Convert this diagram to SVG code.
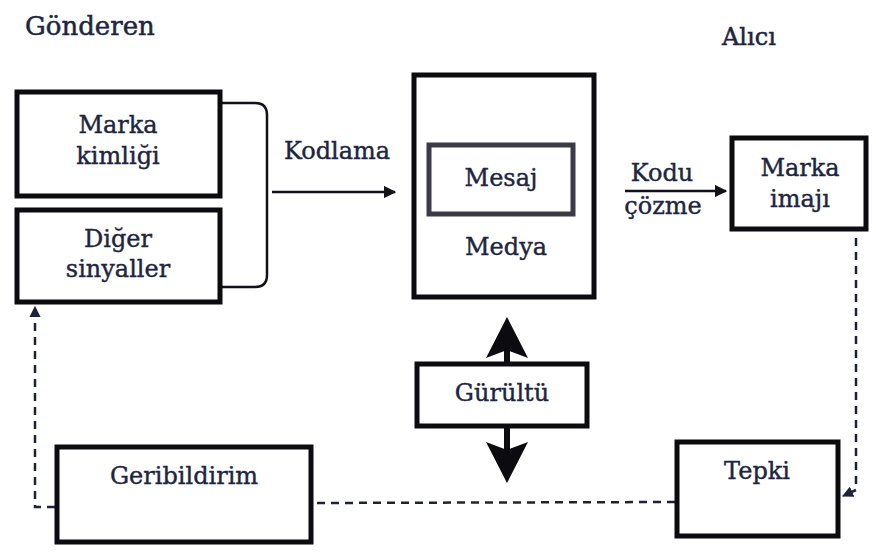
<svg xmlns="http://www.w3.org/2000/svg" width="876" height="552" viewBox="0 0 876 552">
  <style>
    .box { fill: #ffffff; stroke: #0b0b10; stroke-width: 5; }
    .inner { fill: #ffffff; stroke: #3a3b44; stroke-width: 5; }
    .lbl { font-family: "DejaVu Serif", "Liberation Serif", serif; font-size: 24px; fill: #1d2540; stroke: #1d2540; stroke-width: 0.4; text-anchor: middle; }
    .title { font-family: "DejaVu Serif", "Liberation Serif", serif; fill: #1d2540; stroke: #1d2540; stroke-width: 0.5; }
    .solid { fill: none; stroke: #111218; stroke-width: 2.5; }
    .dash { fill: none; stroke: #1d2238; stroke-width: 2.5; stroke-dasharray: 8 6; }
    .thick { fill: none; stroke: #0b0b10; stroke-width: 6; }
  </style>
  <defs>
    <marker id="head" viewBox="0 0 10 10" refX="9" refY="5" markerWidth="5" markerHeight="5" orient="auto">
      <path d="M0,0 L10,5 L0,10 z" fill="#111218"/>
    </marker>
    <marker id="headSmall" viewBox="0 0 10 10" refX="9" refY="5" markerWidth="4.5" markerHeight="4.5" orient="auto">
      <path d="M0,0 L10,5 L0,10 z" fill="#1d2238"/>
    </marker>
  </defs>
  <rect width="876" height="552" fill="#ffffff"/>

  <!-- Side titles -->
  <text class="title" x="25" y="35" font-size="26">Gönderen</text>
  <text class="title" x="722" y="45" font-size="24">Alıcı</text>

  <!-- Connectors -->
  <g id="connectors">
    <!-- bracket joining the two sender boxes -->
    <path class="solid" d="M222,103 L255,103 Q267,103 267,115 L267,275 Q267,287 255,287 L222,287" stroke-width="3"/>
    <!-- Kodlama -->
    <line class="solid" x1="272" y1="192" x2="395" y2="192" marker-end="url(#head)"/>
    <text class="lbl" x="337" y="159">Kodlama</text>
    <!-- Kodu çözme -->
    <line class="solid" x1="625" y1="191" x2="726" y2="191" marker-end="url(#head)"/>
    <text class="lbl" x="662" y="181">Kodu</text>
    <text class="lbl" x="663" y="214">çözme</text>
    <!-- noise arrows -->
    <line class="thick" x1="507" y1="362" x2="507" y2="345"/>
    <polygon points="507,317 528,358 507,350 486,358" fill="#0b0b10"/>
    <line class="thick" x1="507" y1="427" x2="507" y2="455"/>
    <polygon points="507,483 528,442 507,450 486,442" fill="#0b0b10"/>
    <!-- feedback loop -->
    <polyline class="dash" points="856,238 856,490 843,496" marker-end="url(#headSmall)"/>
    <line class="dash" x1="675" y1="502" x2="313" y2="503"/>
    <polyline class="dash" points="55,507 35,507 35,307" marker-end="url(#headSmall)"/>
  </g>

  <!-- Sender -->
  <g id="marka-kimligi">
    <rect class="box" x="17" y="92" width="203" height="104"/>
    <text class="lbl" x="118" y="133">Marka</text>
    <text class="lbl" x="118" y="164">kimliği</text>
  </g>
  <g id="diger-sinyaller">
    <rect class="box" x="17" y="210" width="203" height="92"/>
    <text class="lbl" x="118" y="247">Diğer</text>
    <text class="lbl" x="118" y="277">sinyaller</text>
  </g>

  <!-- Medium -->
  <g id="medya">
    <rect class="box" x="414" y="75" width="180" height="222"/>
    <text class="lbl" x="506" y="255">Medya</text>
  </g>
  <g id="mesaj">
    <rect class="inner" x="429" y="145" width="144" height="69"/>
    <text class="lbl" x="501" y="186">Mesaj</text>
  </g>
  <g id="gurultu">
    <rect class="box" x="417" y="364" width="170" height="62"/>
    <text class="lbl" x="502" y="401">Gürültü</text>
  </g>

  <!-- Receiver -->
  <g id="marka-imaji">
    <rect class="box" x="732" y="138" width="134" height="91"/>
    <text class="lbl" x="800" y="176">Marka</text>
    <text class="lbl" x="800" y="207">imajı</text>
  </g>
  <g id="tepki">
    <rect class="box" x="677" y="442" width="161" height="94"/>
    <text class="lbl" x="757" y="479">Tepki</text>
  </g>
  <g id="geribildirim">
    <rect class="box" x="57" y="447" width="254" height="95"/>
    <text class="lbl" x="184" y="484">Geribildirim</text>
  </g>
</svg>
